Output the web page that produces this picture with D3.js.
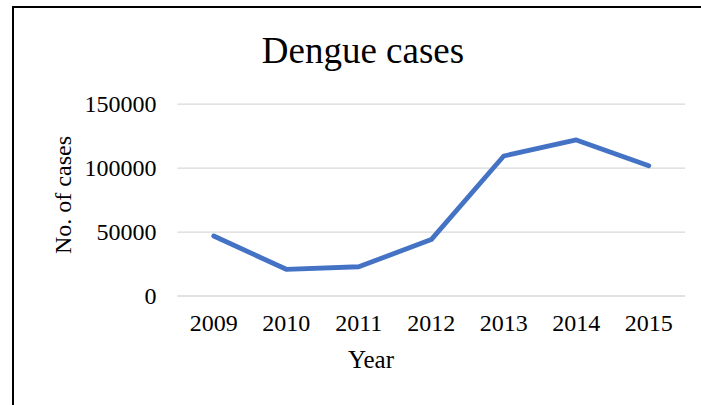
<!DOCTYPE html>
<html><head><meta charset="utf-8">
<script src="https://cdn.jsdelivr.net/npm/d3@7"></script>
<style>html,body{margin:0;padding:0;background:#fff;}svg{display:block;}</style>
</head><body>
<svg id="chart" width="701" height="405"></svg>
<script>
const years = ["2009","2010","2011","2012","2013","2014","2015"];
const cases = [46500, 20500, 22500, 43700, 109100, 121700, 101500];
const yTicks = [0, 50000, 100000, 150000];
const title = "Dengue cases";
const xTitle = "Year";
const yTitle = "No. of cases";

const svg = d3.select("#chart");
const font = "'Liberation Serif','Times New Roman',serif";
const plot = {left: 177.5, right: 685, top: 103.7, bottom: 295.5};

svg.append("rect").attr("width",701).attr("height",405).attr("fill","#fff");
// chart border (top and left visible)
svg.append("line").attr("x1",13).attr("x2",701).attr("y1",7).attr("y2",7).attr("stroke","#000").attr("stroke-width",2);
svg.append("line").attr("x1",13).attr("x2",13).attr("y1",6).attr("y2",405).attr("stroke","#000").attr("stroke-width",2);

const x = d3.scaleBand().domain(years).range([plot.left, plot.right]);
const y = d3.scaleLinear().domain([0,150000]).range([plot.bottom, plot.top]);

// gridlines via axis
const yAxis = d3.axisLeft(y).tickValues(yTicks).tickSize(-(plot.right-plot.left)).tickPadding(21).tickFormat(d3.format("d"));
const gy = svg.append("g").attr("transform",`translate(${plot.left},0)`).call(yAxis);
gy.select(".domain").remove();
gy.selectAll(".tick line").attr("stroke","#d9d9d9").attr("stroke-width",1.3);
gy.selectAll(".tick text").attr("font-family",font).attr("font-size",24).attr("fill","#000");

const xAxis = d3.axisBottom(x).tickSize(0).tickPadding(18);
const gx = svg.append("g").attr("transform",`translate(0,${plot.bottom})`).call(xAxis);
gx.select(".domain").remove();
gx.selectAll(".tick text").attr("font-family",font).attr("font-size",24).attr("fill","#000");

const line = d3.line().x((d,i)=>x(years[i])+x.bandwidth()/2).y(d=>y(d));
svg.append("path").datum(cases).attr("d",line).attr("fill","none")
  .attr("stroke","#4472C4").attr("stroke-width",4.8).attr("stroke-linecap","round").attr("stroke-linejoin","round");

svg.append("text").attr("x",363).attr("y",63).attr("text-anchor","middle")
  .attr("font-family",font).attr("font-size",37).attr("fill","#000").text(title);
svg.append("text").attr("x",371).attr("y",368).attr("text-anchor","middle")
  .attr("font-family",font).attr("font-size",25).attr("fill","#000").text(xTitle);
svg.append("text").attr("transform","translate(71,195) rotate(-90)").attr("text-anchor","middle")
  .attr("font-family",font).attr("font-size",24).attr("fill","#000").text(yTitle);
</script>
</body></html>
